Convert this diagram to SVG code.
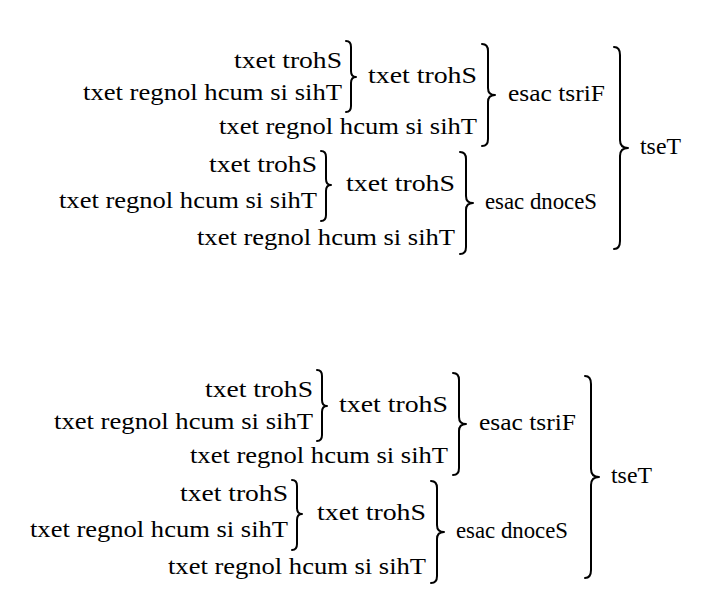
<svg xmlns="http://www.w3.org/2000/svg" width="710" height="603" viewBox="0 0 710 603">
<style>
text{font-size:23px;fill:#000}
.br{fill:none;stroke:#000;stroke-width:2;stroke-linecap:round;stroke-linejoin:round}
</style>
<rect width="710" height="603" fill="#fff"/>
<g id="diagram-top" font-family="Liberation Serif, DejaVu Serif, serif">
  <g id="a-row1"><text x="234" y="68" textLength="108" lengthAdjust="spacingAndGlyphs">txet trohS</text></g>
  <g id="a-row2"><text x="83" y="100" textLength="259" lengthAdjust="spacingAndGlyphs">txet regnol hcum si sihT</text></g>
  <g id="a-mid1"><text x="368" y="83" textLength="109" lengthAdjust="spacingAndGlyphs">txet trohS</text></g>
  <g id="a-row3"><text x="219" y="134" textLength="258" lengthAdjust="spacingAndGlyphs">txet regnol hcum si sihT</text></g>
  <g id="a-first"><text x="508" y="101" textLength="97" lengthAdjust="spacingAndGlyphs">esac tsriF</text></g>
  <g id="a-row4"><text x="209" y="172" textLength="108" lengthAdjust="spacingAndGlyphs">txet trohS</text></g>
  <g id="a-row5"><text x="59" y="208" textLength="258" lengthAdjust="spacingAndGlyphs">txet regnol hcum si sihT</text></g>
  <g id="a-mid2"><text x="346" y="191" textLength="109" lengthAdjust="spacingAndGlyphs">txet trohS</text></g>
  <g id="a-row6"><text x="197" y="245" textLength="258" lengthAdjust="spacingAndGlyphs">txet regnol hcum si sihT</text></g>
  <g id="a-second"><text x="485" y="209" textLength="112" lengthAdjust="spacingAndGlyphs">esac dnoceS</text></g>
  <g id="a-test"><text x="640" y="154" textLength="41" lengthAdjust="spacingAndGlyphs">tseT</text></g>
  <g id="a-braces">
    <path class="br" d="M346,41 Q351,41 351,47 L351,71 Q351,77 356,77 Q351,77 351,83 L351,106 Q351,112 346,112"/>
    <path class="br" d="M482,44 Q488,44 488,51 L488,88 Q488,95 495,95 Q488,95 488,102 L488,139 Q488,146 482,146"/>
    <path class="br" d="M321,151 Q326,151 326,157 L326,179 Q326,185 331,185 Q326,185 326,191 L326,215 Q326,221 321,221"/>
    <path class="br" d="M460,152 Q466,152 466,159 L466,196 Q466,203 473,203 Q466,203 466,210 L466,247 Q466,254 460,254"/>
    <path class="br" d="M614,47 Q620,47 620,55 L620,140 Q620,148 628,148 Q620,148 620,156 L620,241 Q620,249 614,249"/>
  </g>
</g>
<g id="diagram-bottom" transform="translate(-29,329)" font-family="Liberation Serif, DejaVu Serif, serif">
  <g id="b-row1"><text x="234" y="68" textLength="108" lengthAdjust="spacingAndGlyphs">txet trohS</text></g>
  <g id="b-row2"><text x="83" y="100" textLength="259" lengthAdjust="spacingAndGlyphs">txet regnol hcum si sihT</text></g>
  <g id="b-mid1"><text x="368" y="83" textLength="109" lengthAdjust="spacingAndGlyphs">txet trohS</text></g>
  <g id="b-row3"><text x="219" y="134" textLength="258" lengthAdjust="spacingAndGlyphs">txet regnol hcum si sihT</text></g>
  <g id="b-first"><text x="508" y="101" textLength="97" lengthAdjust="spacingAndGlyphs">esac tsriF</text></g>
  <g id="b-row4"><text x="209" y="172" textLength="108" lengthAdjust="spacingAndGlyphs">txet trohS</text></g>
  <g id="b-row5"><text x="59" y="208" textLength="258" lengthAdjust="spacingAndGlyphs">txet regnol hcum si sihT</text></g>
  <g id="b-mid2"><text x="346" y="191" textLength="109" lengthAdjust="spacingAndGlyphs">txet trohS</text></g>
  <g id="b-row6"><text x="197" y="245" textLength="258" lengthAdjust="spacingAndGlyphs">txet regnol hcum si sihT</text></g>
  <g id="b-second"><text x="485" y="209" textLength="112" lengthAdjust="spacingAndGlyphs">esac dnoceS</text></g>
  <g id="b-test"><text x="640" y="154" textLength="41" lengthAdjust="spacingAndGlyphs">tseT</text></g>
  <g id="b-braces">
    <path class="br" d="M346,41 Q351,41 351,47 L351,71 Q351,77 356,77 Q351,77 351,83 L351,106 Q351,112 346,112"/>
    <path class="br" d="M482,44 Q488,44 488,51 L488,88 Q488,95 495,95 Q488,95 488,102 L488,139 Q488,146 482,146"/>
    <path class="br" d="M321,151 Q326,151 326,157 L326,179 Q326,185 331,185 Q326,185 326,191 L326,215 Q326,221 321,221"/>
    <path class="br" d="M460,152 Q466,152 466,159 L466,196 Q466,203 473,203 Q466,203 466,210 L466,247 Q466,254 460,254"/>
    <path class="br" d="M614,47 Q620,47 620,55 L620,140 Q620,148 628,148 Q620,148 620,156 L620,241 Q620,249 614,249"/>
  </g>
</g>
</svg>
